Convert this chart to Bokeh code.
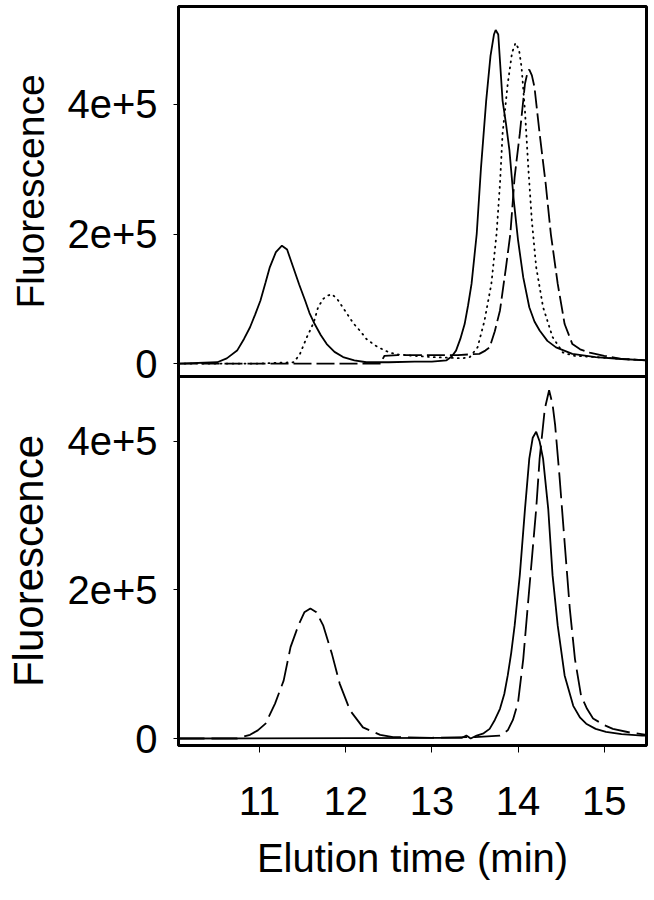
from bokeh.plotting import figure
from bokeh.layouts import column
from bokeh.models import Range1d, FixedTicker
from bokeh.embed import file_html
from bokeh.resources import INLINE

# ---------------- data ----------------
x_ticks = [11, 12, 13, 14, 15]
y_ticks = [0, 200000, 400000]
y_tick_labels = {0: "0", 200000: "2e+5", 400000: "4e+5"}

# Top panel
top_solid_x = [10.06, 10.51, 10.62, 10.74, 10.82, 10.89, 10.95, 11.01, 11.07, 11.12, 11.19, 11.26,
               11.32, 11.39, 11.46, 11.53, 11.58, 11.64, 11.71, 11.78, 11.87, 11.97, 12.1, 12.24,
               12.5, 12.8, 13.0, 13.17, 13.23, 13.28, 13.33, 13.38, 13.42, 13.46, 13.52, 13.57,
               13.63, 13.68, 13.72, 13.74, 13.77, 13.82, 13.86, 13.90, 13.95, 14.00, 14.06, 14.13,
               14.19, 14.25, 14.34, 14.44, 14.63, 14.9, 15.2, 15.49]
top_solid_y = [0, 2e3, 8e3, 2.0e4, 3.8e4, 5.6e4, 7.6e4, 9.7e4, 1.25e5, 1.49e5, 1.72e5, 1.82e5,
               1.76e5, 1.49e5, 1.22e5, 9.7e4, 7.8e4, 6.1e4, 4.4e4, 3.0e4, 1.8e4, 1.0e4, 5e3, 2e3,
               2e3, 3e3, 3e3, 5e3, 1.1e4, 2.0e4, 3.8e4, 6.1e4, 9.0e4, 1.23e5, 2.0e5, 3.03e5,
               4.06e5, 4.75e5, 5.08e5, 5.15e5, 5.08e5, 4.06e5, 3.7e5, 3.29e5, 2.52e5, 1.9e5, 1.33e5, 8.7e4,
               6.5e4, 5.1e4, 3.5e4, 2.5e4, 1.5e4, 1.0e4, 7e3, 5e3]

top_dotted_x = [10.06, 11.0, 11.40, 11.47, 11.51, 11.55, 11.59, 11.63, 11.68, 11.74, 11.79, 11.84,
                11.90, 11.97, 12.03, 12.09, 12.17, 12.24, 12.34, 12.44, 12.51, 12.6, 12.78, 13.0,
                13.2, 13.35, 13.44, 13.53, 13.61, 13.69, 13.75, 13.79, 13.82, 13.88, 13.93, 13.97,
                14.01, 14.04, 14.08, 14.12, 14.16, 14.21, 14.29, 14.40, 14.52, 14.65, 14.9, 15.2, 15.49]
top_dotted_y = [0, 0, 2e3, 1.5e4, 2.8e4, 4.1e4, 5.2e4, 6.4e4, 8.7e4, 1.0e5, 1.05e5, 1.07e5,
                1.0e5, 8.6e4, 7.4e4, 6.2e4, 5.0e4, 3.8e4, 2.8e4, 2.1e4, 1.7e4, 1.4e4, 1.2e4, 1.0e4,
                9e3, 8e3, 1.0e4, 2.5e4, 6.6e4, 1.23e5, 2.0e5, 2.78e5, 3.55e5, 4.32e5, 4.8e5, 4.95e5,
                4.85e5, 4.58e5, 3.9e5, 3.0e5, 2.2e5, 1.49e5, 8.7e4, 4.1e4, 1.7e4, 1.2e4, 1.0e4, 7e3, 5e3]

top_dashed_x = [10.06, 12.40, 12.45, 12.6, 13.0, 13.3, 13.55, 13.62, 13.67, 13.73, 13.79, 13.86,
                13.91, 13.96, 14.02, 14.08, 14.11, 14.13, 14.16, 14.19, 14.25, 14.32, 14.38, 14.46,
                14.54, 14.63, 14.72, 14.83, 15.0, 15.21, 15.49]
top_dashed_y = [0, 0, 1.2e4, 1.3e4, 1.3e4, 1.3e4, 1.5e4, 2.0e4, 2.5e4, 5.0e4, 8.2e4, 1.49e5,
                2.0e5, 2.88e5, 3.55e5, 4.32e5, 4.5e5, 4.54e5, 4.45e5, 4.27e5, 3.55e5, 2.78e5, 2.0e5, 1.23e5,
                6.1e4, 3.0e4, 2.2e4, 1.7e4, 1.2e4, 7e3, 5e3]

# Bottom panel
bot_solid_x = [10.06, 13.2, 13.35, 13.40, 13.45, 13.52, 13.60, 13.67, 13.73, 13.79, 13.84, 13.88,
               13.92, 13.96, 14.02, 14.08, 14.13, 14.17, 14.21, 14.25, 14.29, 14.35, 14.40, 14.46,
               14.54, 14.64, 14.72, 14.79, 14.9, 15.02, 15.2, 15.44, 15.49]
bot_solid_y = [0, 1e3, 1e3, 4e3, 0, 4e3, 7e3, 1.3e4, 2.5e4, 4.0e4, 6.0e4, 8.5e4,
               1.15e5, 1.52e5, 2.2e5, 3.09e5, 3.77e5, 4.05e5, 4.13e5, 4.0e5, 3.77e5, 3.09e5, 2.2e5, 1.52e5,
               8.5e4, 4.4e4, 2.8e4, 2.0e4, 1.3e4, 9e3, 6e3, 4e3, 4e3]

bot_dashed_x = [10.06, 10.74, 10.89, 10.98, 11.07, 11.18, 11.28, 11.36, 11.45, 11.52, 11.59, 11.66,
                11.74, 11.84, 11.93, 12.05, 12.20, 12.40, 12.55, 13.0, 13.5, 13.79, 13.88, 13.94,
                14.00, 14.06, 14.11, 14.16, 14.21, 14.25, 14.31, 14.36, 14.40, 14.43, 14.48, 14.54,
                14.60, 14.66, 14.73, 14.80, 14.87, 15.0, 15.10, 15.3, 15.49]
bot_dashed_y = [0, 0, 5e3, 1.1e4, 2.0e4, 4.7e4, 7.8e4, 1.23e5, 1.52e5, 1.7e5, 1.75e5, 1.7e5,
                1.52e5, 1.14e5, 7.4e4, 3.8e4, 1.5e4, 5e3, 2e3, 1e3, 2e3, 4e3, 1.1e4, 2.5e4,
                4.9e4, 1.07e5, 1.75e5, 2.42e5, 3.09e5, 3.77e5, 4.44e5, 4.69e5, 4.5e5, 4.22e5, 3.54e5, 2.64e5,
                1.75e5, 1.07e5, 5.8e4, 4.0e4, 2.7e4, 1.8e4, 1.3e4, 8e3, 5e3]

x_label = "Elution time (min)"
y_label = "Fluorescence"

# ---------------- styling ----------------
FONT = "Liberation Sans"
LW = 1.8
OVERLAP = 24


def style_y(p, label_size):
    p.yaxis.ticker = FixedTicker(ticks=y_ticks)
    p.yaxis.major_label_overrides = y_tick_labels
    p.yaxis.axis_label = y_label
    p.yaxis.axis_label_text_font = FONT
    p.yaxis.axis_label_text_font_style = "normal"
    p.yaxis.axis_label_text_font_size = label_size
    p.yaxis.axis_label_text_color = "black"
    p.yaxis.axis_label_standoff = 12
    p.yaxis.major_label_text_font = FONT
    p.yaxis.major_label_text_font_size = "40px"
    p.yaxis.major_label_text_color = "black"
    p.yaxis.major_label_standoff = 16
    p.yaxis.major_tick_out = 5
    p.yaxis.major_tick_in = 0
    p.yaxis.minor_tick_line_color = None
    p.yaxis.axis_line_color = "black"
    p.yaxis.axis_line_width = 3
    p.yaxis.major_tick_line_color = "black"
    p.yaxis.major_tick_line_width = 1


def base(p):
    p.outline_line_color = "black"
    p.outline_line_width = 3
    p.outline_line_alpha = 1
    p.xgrid.grid_line_color = None
    p.ygrid.grid_line_color = None
    p.background_fill_color = "white"


x_range = Range1d(10.06, 15.49)

p1 = figure(frame_width=468, frame_height=370, x_range=x_range, y_range=Range1d(-0.2e5, 5.513e5),
            output_backend="svg", toolbar_location=None, x_axis_location=None,
            min_border_left=178, min_border_right=3, min_border_top=6, min_border_bottom=OVERLAP)
base(p1)
p1.border_fill_color = "white"
style_y(p1, "39px")
p1.line(top_solid_x, top_solid_y, line_color="black", line_width=LW)
p1.line(top_dotted_x, top_dotted_y, line_color="black", line_width=LW, line_dash="1 5", line_cap="round")
p1.line(top_dashed_x, top_dashed_y, line_color="black", line_width=LW, line_dash="18 5")

p2 = figure(frame_width=468, frame_height=369, x_range=x_range, y_range=Range1d(-0.094e5, 4.875e5),
            output_backend="svg", toolbar_location=None,
            min_border_left=178, min_border_right=3, min_border_top=0, min_border_bottom=0)
base(p2)
p2.border_fill_color = None
p2.styles = {"margin-top": f"-{OVERLAP}px"}
style_y(p2, "42px")
p2.xaxis.ticker = FixedTicker(ticks=x_ticks)
p2.xaxis.axis_label = x_label
p2.xaxis.axis_label_text_font = FONT
p2.xaxis.axis_label_text_font_style = "normal"
p2.xaxis.axis_label_text_font_size = "40px"
p2.xaxis.axis_label_text_color = "black"
p2.xaxis.axis_label_standoff = 18
p2.xaxis.major_label_text_font = FONT
p2.xaxis.major_label_text_font_size = "40px"
p2.xaxis.major_label_text_color = "black"
p2.xaxis.major_label_standoff = 34
p2.xaxis.major_tick_out = 7
p2.xaxis.major_tick_in = 0
p2.xaxis.minor_tick_line_color = None
p2.xaxis.axis_line_color = "black"
p2.xaxis.axis_line_width = 3
p2.line(bot_solid_x, bot_solid_y, line_color="black", line_width=LW)
p2.line(bot_dashed_x, bot_dashed_y, line_color="black", line_width=LW, line_dash="26 7")

layout = column(p1, p2, spacing=0)

open("out.html", "w").write(file_html(layout, INLINE))
